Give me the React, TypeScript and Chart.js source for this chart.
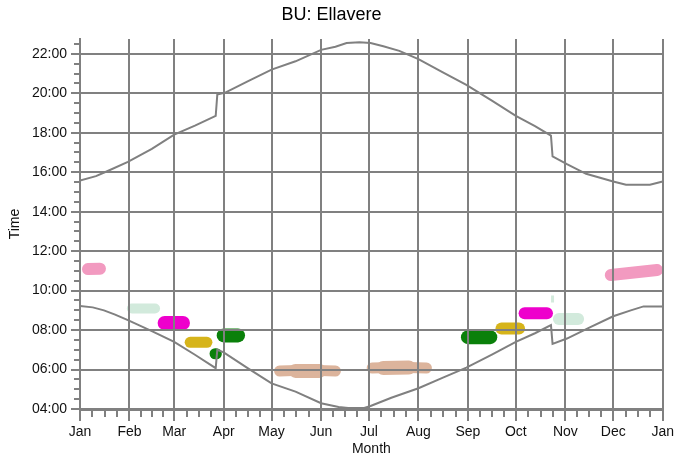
import React, { useEffect, useRef } from 'react';
import { Chart, registerables } from 'chart.js';

Chart.register(...registerables);

// ---- axes ----
const monthStarts = [0, 31, 59, 90, 120, 151, 181, 212, 243, 273, 304, 334, 365];
const monthLabels = ['Jan', 'Feb', 'Mar', 'Apr', 'May', 'Jun', 'Jul', 'Aug', 'Sep', 'Oct', 'Nov', 'Dec', 'Jan'];
const yTickHours = [4, 6, 8, 10, 12, 14, 16, 18, 20, 22];

// ---- sunset line (day of year, hour) ----
const sunsetDays = [0, 10, 17, 30, 45, 59, 72, 85, 86, 91, 105, 120, 135, 151, 160, 167, 175, 182, 190, 200, 212, 227, 242, 258, 273, 285, 295, 296, 305, 317, 334, 342, 357, 365];
const sunsetHours = [15.58, 15.8, 16.05, 16.52, 17.18, 17.9, 18.36, 18.85, 19.93, 20.03, 20.6, 21.2, 21.62, 22.2, 22.36, 22.55, 22.58, 22.55, 22.38, 22.15, 21.73, 21.07, 20.42, 19.63, 18.86, 18.34, 17.85, 16.8, 16.41, 15.92, 15.53, 15.36, 15.36, 15.53];

// ---- sunrise line ----
const sunriseDays = [0, 8, 15, 22, 30, 45, 59, 72, 85, 86, 90, 105, 120, 135, 151, 162, 168, 178, 182, 195, 212, 227, 242, 258, 273, 285, 295, 296, 305, 320, 334, 345, 353, 365];
const sunriseHours = [9.22, 9.15, 9.0, 8.78, 8.5, 7.95, 7.4, 6.75, 6.07, 7.0, 6.87, 6.07, 5.3, 4.88, 4.29, 4.1, 4.05, 4.05, 4.15, 4.57, 5.05, 5.58, 6.1, 6.76, 7.4, 7.84, 8.25, 7.3, 7.57, 8.16, 8.7, 9.0, 9.2, 9.2];

// ---- observation blobs: [day, hour] ----
const pinkJan: number[][] = [[5, 11.09], [12.5, 11.11]];
const mintFeb: number[][] = [[32.5, 9.09], [47, 9.09]];
const magentaMar: number[][] = [[53, 8.36], [64.5, 8.36]];
const goldMar: number[][] = [[69, 7.38], [79.5, 7.38]];
const greenMarSmall: number[][] = [[84.6, 6.8], [85.4, 6.8]];
const greenApr: number[][] = [[90, 7.73], [99, 7.73]];
const tanMay: number[][] = [[125, 5.93], [142, 5.97], [160, 5.93]];
const tanMayCore: number[][] = [[135, 5.93], [150, 5.93]];
const tanJul: number[][] = [[183, 6.08], [200, 6.12], [217, 6.08]];
const tanJulCore: number[][] = [[190, 6.08], [206, 6.1]];
const greenSep: number[][] = [[243, 7.64], [257, 7.64]];
const goldSep: number[][] = [[264, 8.08], [275, 8.08]];
const magentaOct: number[][] = [[278.5, 8.85], [292.5, 8.85]];
const mintOct: number[][] = [[300, 8.56], [312, 8.56]];
const mintOctTick: number[][] = [[296, 9.4], [296, 9.75]];
const pinkDec: number[][] = [[332.5, 10.79], [361.5, 11.04]];

const GRID = '#808080';
const FONT = 'Liberation Sans, Arial, sans-serif';

const toPts = (xs: number[], ys: number[]) => xs.map((x, i) => ({ x, y: ys[i] }));
const pairPts = (arr: number[][]) => arr.map(([x, y]) => ({ x, y }));

const fmtHour = (h: number) => `${String(Math.floor(h)).padStart(2, '0')}:00`;

const minorTicks = {
  id: 'minorTicks',
  afterDraw(chart: any) {
    const { ctx, chartArea, scales } = chart;
    const x = scales.x;
    const y = scales.y;
    ctx.save();
    ctx.strokeStyle = GRID;
    ctx.lineWidth = 2;
    ctx.beginPath();
    for (let i = 0; i < monthStarts.length - 1; i++) {
      const a = monthStarts[i];
      const b = monthStarts[i + 1];
      for (let k = 1; k < 4; k++) {
        const px = Math.round(x.getPixelForValue(a + ((b - a) * k) / 4));
        ctx.moveTo(px, chartArea.bottom);
        ctx.lineTo(px, chartArea.bottom + 8);
      }
    }
    for (let h = 4.5; h <= 22.75; h += 0.5) {
      if (h % 2 === 0) continue;
      const py = Math.round(y.getPixelForValue(h));
      ctx.moveTo(chartArea.left - 6, py);
      ctx.lineTo(chartArea.left, py);
    }
    ctx.stroke();
    ctx.restore();
  },
};

export default function App() {
  const ref = useRef<HTMLCanvasElement>(null);

  useEffect(() => {
    if (!ref.current) return;
    Chart.defaults.font.family = FONT;

    const blob = (data: number[][], color: string, width: number, cap: string = 'round') => ({
      data: pairPts(data),
      showLine: true,
      borderColor: color,
      backgroundColor: color,
      borderWidth: width,
      borderCapStyle: cap,
      borderJoinStyle: 'round',
      pointRadius: 0,
      tension: 0,
    });

    const chart = new Chart(ref.current, {
      type: 'scatter',
      data: {
        datasets: [
          { data: toPts(sunsetDays, sunsetHours), showLine: true, borderColor: GRID, borderWidth: 2, pointRadius: 0, tension: 0 },
          { data: toPts(sunriseDays, sunriseHours), showLine: true, borderColor: GRID, borderWidth: 2, pointRadius: 0, tension: 0 },
          blob(pinkJan, '#f29ac0', 12),
          blob(mintFeb, '#d2eadc', 10),
          blob(magentaMar, '#ee00cc', 14),
          blob(goldMar, '#d6b41a', 11),
          blob(greenMarSmall, '#0a800a', 11),
          blob(greenApr, '#0a800a', 14),
          blob(tanMay, '#dcb49c', 11),
          blob(tanMayCore, '#dcb49c', 14),
          blob(tanJul, '#dcb49c', 11),
          blob(tanJulCore, '#dcb49c', 14),
          blob(greenSep, '#0a800a', 14),
          blob(goldSep, '#d6b41a', 12),
          blob(magentaOct, '#ee00cc', 12),
          blob(mintOct, '#d2eadc', 12),
          blob(mintOctTick, '#d2eadc', 3, 'butt'),
          blob(pinkDec, '#f29ac0', 12),
        ] as any,
      },
      options: {
        responsive: false,
        animation: false,
        layout: { padding: { left: 0, right: 14, top: 0, bottom: 0 } },
        plugins: {
          legend: { display: false },
          tooltip: { enabled: false },
          title: {
            display: true,
            text: 'BU: Ellavere',
            color: '#000',
            font: { size: 18, weight: 'normal', family: FONT },
            padding: { top: 4, bottom: 13.4 },
          },
        },
        scales: {
          x: {
            type: 'linear',
            min: 0,
            max: 365,
            afterBuildTicks: (s: any) => {
              s.ticks = monthStarts.map((v) => ({ value: v }));
            },
            afterFit: (s: any) => {
              s.height = 53;
            },
            ticks: {
              autoSkip: false,
              maxRotation: 0,
              padding: 3,
              color: '#111',
              font: { size: 14 },
              callback: (_v: any, i: number) => monthLabels[i],
            },
            grid: { color: GRID, lineWidth: 2, tickLength: 12, z: 1 },
            border: { display: true, color: GRID, width: 3, z: 1 },
            title: { display: true, text: 'Month', color: '#111', font: { size: 14 }, padding: { top: 0, bottom: 4.5 } },
          },
          y: {
            type: 'linear',
            min: 4,
            max: 22.75,
            afterBuildTicks: (s: any) => {
              s.ticks = yTickHours.map((v) => ({ value: v }));
            },
            afterFit: (s: any) => {
              s.width = 80;
            },
            ticks: {
              padding: 4,
              color: '#111',
              font: { size: 14 },
              callback: (v: any) => fmtHour(Number(v)),
            },
            grid: { color: GRID, lineWidth: 2, tickLength: 9, z: 1 },
            border: { display: true, color: GRID, width: 2, z: 1 },
            title: { display: true, text: 'Time', color: '#111', font: { size: 14 }, padding: { top: 6.6, bottom: 0 } },
          },
        },
      } as any,
      plugins: [minorTicks],
    });

    return () => chart.destroy();
  }, []);

  return (
    <div style={{ position: 'absolute', left: 0, top: 0, width: 677, height: 462, background: '#fff' }}>
      <canvas ref={ref} width={677} height={462} style={{ display: 'block' }} />
    </div>
  );
}
